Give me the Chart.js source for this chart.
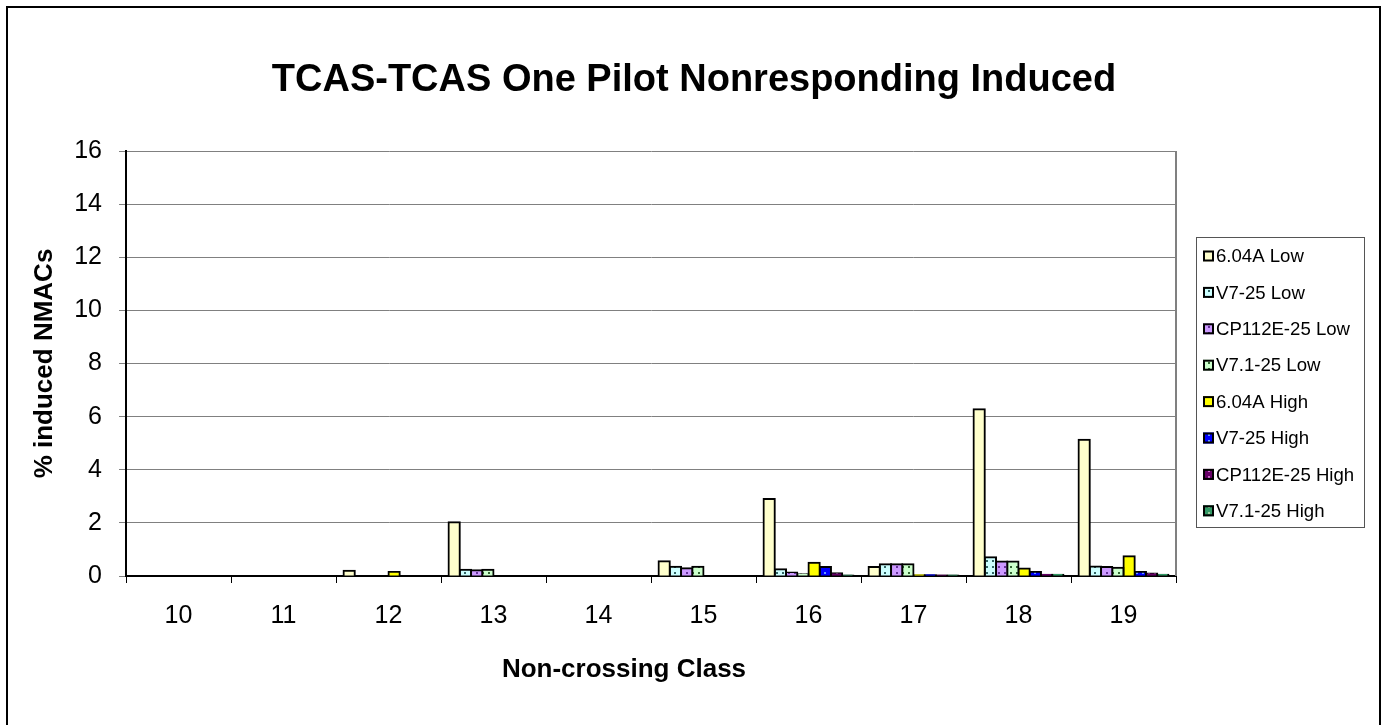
<!DOCTYPE html>
<html>
<head>
<meta charset="utf-8">
<script src="https://cdn.jsdelivr.net/npm/chart.js@4/dist/chart.umd.min.js"></script>
<style>
  html, body { margin: 0; padding: 0; background: #fff; }
  #c { display: block; }
</style>
</head>
<body>
<canvas id="c" width="1388" height="725"></canvas>
<script>
// ---- Data ----
const categories = ['10', '11', '12', '13', '14', '15', '16', '17', '18', '19'];
const seriesLabels = ['6.04A Low', 'V7-25 Low', 'CP112E-25 Low', 'V7.1-25 Low',
                      '6.04A High', 'V7-25 High', 'CP112E-25 High', 'V7.1-25 High'];
const s604ALow   = [0, 0, 0.20, 2.02, 0, 0.56, 2.90, 0.34, 6.28, 5.13];
const v725Low    = [0, 0, 0,    0.24, 0, 0.35, 0.25, 0.44, 0.71, 0.36];
const cp112eLow  = [0, 0, 0,    0.22, 0, 0.29, 0.13, 0.44, 0.55, 0.34];
const v71Low     = [0, 0, 0,    0.24, 0, 0.35, 0.07, 0.44, 0.55, 0.31];
const s604AHigh  = [0, 0, 0.15, 0,    0, 0,    0.50, 0.03, 0.28, 0.74];
const v725High   = [0, 0, 0,    0,    0, 0,    0.34, 0.03, 0.15, 0.15];
const cp112eHigh = [0, 0, 0,    0,    0, 0,    0.10, 0.02, 0.05, 0.09];
const v71High    = [0, 0, 0,    0,    0, 0,    0.02, 0.02, 0.05, 0.05];
const yTicks = { min: 0, max: 16, step: 2 };
const chartTitle = 'TCAS-TCAS One Pilot Nonresponding Induced';
const xTitle = 'Non-crossing Class';
const yTitle = '% induced NMACs';

const FONT = 'Arial, "Liberation Sans", sans-serif';

function makePattern(bg, dot) {
  const p = document.createElement('canvas');
  p.width = 6; p.height = 6;
  const g = p.getContext('2d');
  g.fillStyle = bg; g.fillRect(0, 0, 6, 6);
  if (dot) {
    g.fillStyle = dot;
    g.fillRect(2, 2, 2, 2);
  }
  return g.createPattern(p, 'repeat');
}

const fills = [
  '#FFFFCC',
  makePattern('#CCFFFF', '#336666'),
  makePattern('#CC99FF', '#663399'),
  makePattern('#CCFFCC', '#336633'),
  '#FFFF00',
  makePattern('#0000FF', '#6699FF'),
  makePattern('#660066', '#CC66CC'),
  makePattern('#339966', '#99CC99')
];
const seriesData = [s604ALow, v725Low, cp112eLow, v71Low, s604AHigh, v725High, cp112eHigh, v71High];

const datasets = seriesData.map((d, i) => ({
  label: seriesLabels[i],
  data: d,
  backgroundColor: fills[i],
  borderColor: '#000',
  borderWidth: 2,
  borderSkipped: 'start',
  inflateAmount: 1,
  categoryPercentage: 0.856,
  barPercentage: 1.0
}));

const PLOT = { left: 126, top: 151, right: 1176, bottom: 576 };

const framePlugin = {
  id: 'frame',
  beforeDraw(chart) {
    const ctx = chart.ctx;
    ctx.save();
    ctx.fillStyle = '#fff';
    ctx.fillRect(0, 0, chart.width, chart.height);
    ctx.restore();
  },
  afterDraw(chart) {
    const ctx = chart.ctx;
    const a = chart.chartArea;
    ctx.save();
    // outer frame (bottom edge outside picture)
    ctx.strokeStyle = '#000';
    ctx.lineWidth = 2;
    ctx.beginPath();
    ctx.moveTo(7, 730); ctx.lineTo(7, 7); ctx.lineTo(1380, 7); ctx.lineTo(1380, 730);
    ctx.stroke();
    // chart title (centred on the whole picture)
    ctx.fillStyle = '#000';
    ctx.textAlign = 'center';
    ctx.textBaseline = 'middle';
    ctx.font = 'bold 38px ' + FONT;
    ctx.fillText(chartTitle, 694, 81);
    // x-axis title
    ctx.font = 'bold 26px ' + FONT;
    ctx.fillText(xTitle, 624, 670);
    // plot-area right border
    ctx.strokeStyle = '#808080';
    ctx.lineWidth = 2;
    ctx.beginPath();
    ctx.moveTo(a.right, a.top); ctx.lineTo(a.right, a.bottom);
    ctx.stroke();
    // legend
    const lx = 1196, ly = 237, lw = 168, lh = 290;
    ctx.strokeStyle = '#555';
    ctx.lineWidth = 1;
    ctx.strokeRect(lx + 0.5, ly + 0.5, lw, lh);
    ctx.font = '18.6px ' + FONT;
    ctx.textBaseline = 'middle';
    ctx.textAlign = 'left';
    chart.data.datasets.forEach((ds, i) => {
      const cy = 256 + i * 36.4;
      ctx.fillStyle = ds.backgroundColor;
      ctx.fillRect(1203, cy - 5.5, 11, 11);
      ctx.strokeStyle = '#000';
      ctx.lineWidth = 2;
      ctx.strokeRect(1204, cy - 4.5, 9, 9);
      ctx.fillStyle = '#000';
      ctx.fillText(ds.label, 1216, cy + 1);
    });
    ctx.restore();
  }
};

new Chart(document.getElementById('c'), {
  type: 'bar',
  data: { labels: categories, datasets },
  options: {
    responsive: false,
    animation: false,
    devicePixelRatio: 1,
    layout: { padding: { left: 8, right: 1388 - PLOT.right, top: PLOT.top, bottom: 0 } },
    plugins: {
      legend: { display: false },
      tooltip: { enabled: false },
      title: { display: false }
    },
    scales: {
      x: {
        offset: true,
        grid: { display: true, drawOnChartArea: false, offset: true, tickLength: 7, tickColor: '#000', lineWidth: 1 },
        border: { display: true, color: '#000', width: 2 },
        ticks: { color: '#000', font: { family: FONT, size: 25 }, padding: 18, maxRotation: 0 },
        title: { display: false },
        afterFit(scale) { scale.height = 725 - PLOT.bottom; }
      },
      y: {
        min: yTicks.min, max: yTicks.max,
        ticks: { stepSize: yTicks.step, color: '#000', font: { family: FONT, size: 25 }, padding: 17 },
        grid: { color: '#808080', lineWidth: 1, tickLength: 7, tickColor: '#808080' },
        border: { display: true, color: '#000', width: 2 },
        title: {
          display: true, text: yTitle, color: '#000',
          font: { family: FONT, size: 26, weight: 'bold', lineHeight: 1.2 },
          padding: { top: 21, bottom: 0 }
        },
        afterFit(scale) { scale.width = PLOT.left - 8; }
      }
    }
  },
  plugins: [framePlugin]
});
</script>
</body>
</html>
